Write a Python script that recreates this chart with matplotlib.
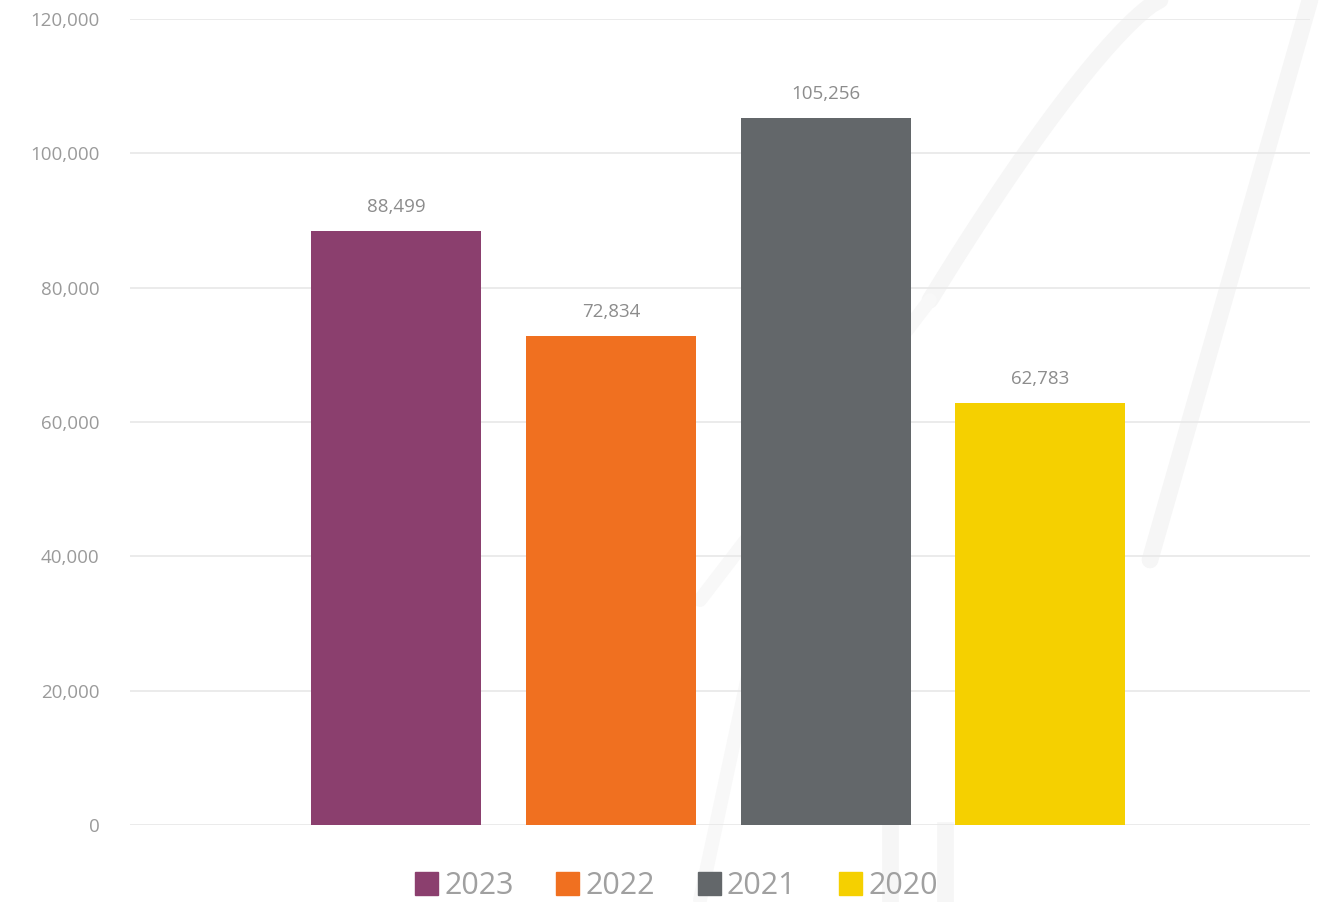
import numpy as np
import matplotlib.pyplot as plt
from matplotlib.ticker import FuncFormatter

years = ['2023', '2022', '2021', '2020']
values = [88499, 72834, 105256, 62783]
colors = ['#8B3F6E', '#F07020', '#63676A', '#F5D000']

plt.rcParams['font.family'] = ['Open Sans', 'DejaVu Sans']

fig = plt.figure(figsize=(13.29, 9.02), dpi=100)

# faint watermark strokes behind the chart
wm = fig.add_axes([0, 0, 1, 1], zorder=0)
wm.set_xlim(0, 1329)
wm.set_ylim(902, 0)
wm.axis('off')
t = np.linspace(0, 1, 60)
wm_col = '#F6F6F6'
wm.plot(1160 - 230 * t ** 0.8, 300 * t, color=wm_col, lw=12, solid_capstyle='round')
wm.plot(1310 - 160 * t, 560 * t, color=wm_col, lw=12, solid_capstyle='round')
wm.plot(930 - 230 * t, 300 + 300 * t, color='#F8F8F8', lw=10, solid_capstyle='round')
wm.plot(760 - 60 * t, 620 + 280 * t, color='#F8F8F8', lw=10, solid_capstyle='round')
wm.plot(890 + 0 * t, 830 + 72 * t, color=wm_col, lw=12)
wm.plot(945 + 0 * t, 830 + 72 * t, color=wm_col, lw=12)

ax = fig.add_axes([0.0978, 0.0854, 0.888, 0.8936], zorder=1)
ax.patch.set_alpha(0)

x = np.arange(len(years))
ax.bar(x, values, width=0.7925, color=colors, zorder=3)

for xi, v in zip(x, values):
    ax.text(xi, v + 2200, f'{v:,}', ha='center', va='bottom', fontsize=13.5, color='#8C8C8C')

ax.set_xlim(-1.2424, 4.259)
ax.set_ylim(0, 120000)
ax.set_yticks(np.arange(0, 120001, 20000))
ax.yaxis.set_major_formatter(FuncFormatter(lambda v, p: f'{int(v):,}'))
ax.tick_params(axis='y', length=0, pad=22, labelsize=13.5, labelcolor='#9A9A9A')
ax.set_xticks([])
ax.grid(axis='y', color='#E8E8E8', lw=1.2, zorder=0)
for s in ax.spines.values():
    s.set_visible(False)

handles = [plt.Rectangle((0, 0), 1, 1, color=c) for c in colors]
fig.legend(handles, years, loc='center', bbox_to_anchor=(0.509, 0.0175), ncol=4,
           frameon=False, fontsize=22, labelcolor='#A0A0A0', handlelength=0.75,
           handleheight=0.75, handletextpad=0.2, columnspacing=1.4)

fig.savefig('out.png', dpi=100)
